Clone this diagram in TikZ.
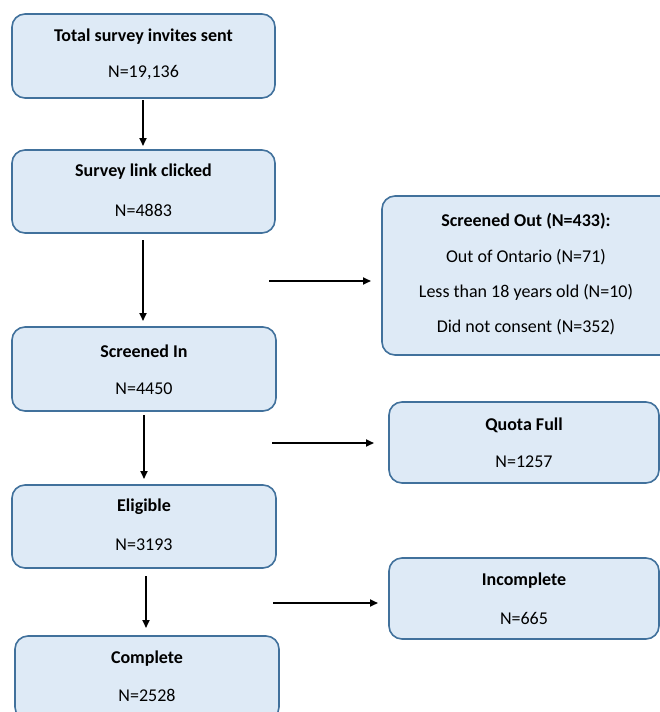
\documentclass[tikz,border=0pt]{standalone}
\usepackage{fontspec}
\setmainfont{Carlito}
\usetikzlibrary{arrows.meta}
\definecolor{boxfill}{HTML}{DEEAF6}
\definecolor{boxline}{HTML}{41719C}
\begin{document}
\begin{tikzpicture}[x=1pt,y=-1pt,
  flowbox/.style={draw=boxline,fill=boxfill,line width=1.6pt,rounded corners=13pt},
  ttl/.style={font=\fontsize{18}{21}\selectfont\bfseries,inner sep=0pt},
  txt/.style={font=\fontsize{18}{21}\selectfont,inner sep=0pt},
  arr/.style={-{Triangle[length=8pt,width=7pt]},line width=1.8pt}]
\useasboundingbox (0,0) rectangle (659,712);
% left column boxes
\draw[flowbox] (12,14) rectangle (275,98);
\node[ttl] (t1) at (143.5,37) {Total survey invites sent};
\node[txt] (n1) at (143.5,73) {N=19,136};
\draw[flowbox] (12,150) rectangle (275,233);
\node[ttl] (t2) at (143.5,172) {Survey link clicked};
\node[txt] (n2) at (143.5,210) {N=4883};
\draw[flowbox] (12,327) rectangle (276,411);
\node[ttl] (t3) at (144,351) {Screened In};
\node[txt] (n3) at (144,389) {N=4450};
\draw[flowbox] (12,485) rectangle (276,568);
\node[ttl] (t4) at (144,507) {Eligible};
\node[txt] (n4) at (144,545) {N=3193};
\draw[flowbox] (15,636) rectangle (279,720);
\node[ttl] (t5) at (147,659) {Complete};
\node[txt] (n5) at (147,695) {N=2528};
% right column boxes
\draw[flowbox] (382,196) rectangle (680,355);
\node[ttl] (t6) at (526,221) {Screened Out (N=433):};
\node[txt] (l6a) at (526,257) {Out of Ontario (N=71)};
\node[txt] (l6b) at (526,292) {Less than 18 years old (N=10)};
\node[txt] (l6c) at (526,327) {Did not consent (N=352)};
\draw[flowbox] (389,402) rectangle (659,483);
\node[ttl] (t7) at (524,425) {Quota Full};
\node[txt] (n7) at (524,462) {N=1257};
\draw[flowbox] (389,558) rectangle (659,639);
\node[ttl] (t8) at (524,581) {Incomplete};
\node[txt] (n8) at (524,618) {N=665};
% connector end points
\coordinate (v1a) at (143,100); \coordinate (v1b) at (143,146);
\coordinate (v2a) at (143,240); \coordinate (v2b) at (143,321);
\coordinate (v3a) at (144,415); \coordinate (v3b) at (144,479);
\coordinate (v4a) at (146,576); \coordinate (v4b) at (146,628);
\coordinate (h1a) at (269,281); \coordinate (h1b) at (371,281);
\coordinate (h2a) at (272,443); \coordinate (h2b) at (374,443);
\coordinate (h3a) at (273,603); \coordinate (h3b) at (378,603);
\draw[arr] (v1a) -- (v1b);
\draw[arr] (v2a) -- (v2b);
\draw[arr] (v3a) -- (v3b);
\draw[arr] (v4a) -- (v4b);
\draw[arr] (h1a) -- (h1b);
\draw[arr] (h2a) -- (h2b);
\draw[arr] (h3a) -- (h3b);
\end{tikzpicture}
\end{document}
